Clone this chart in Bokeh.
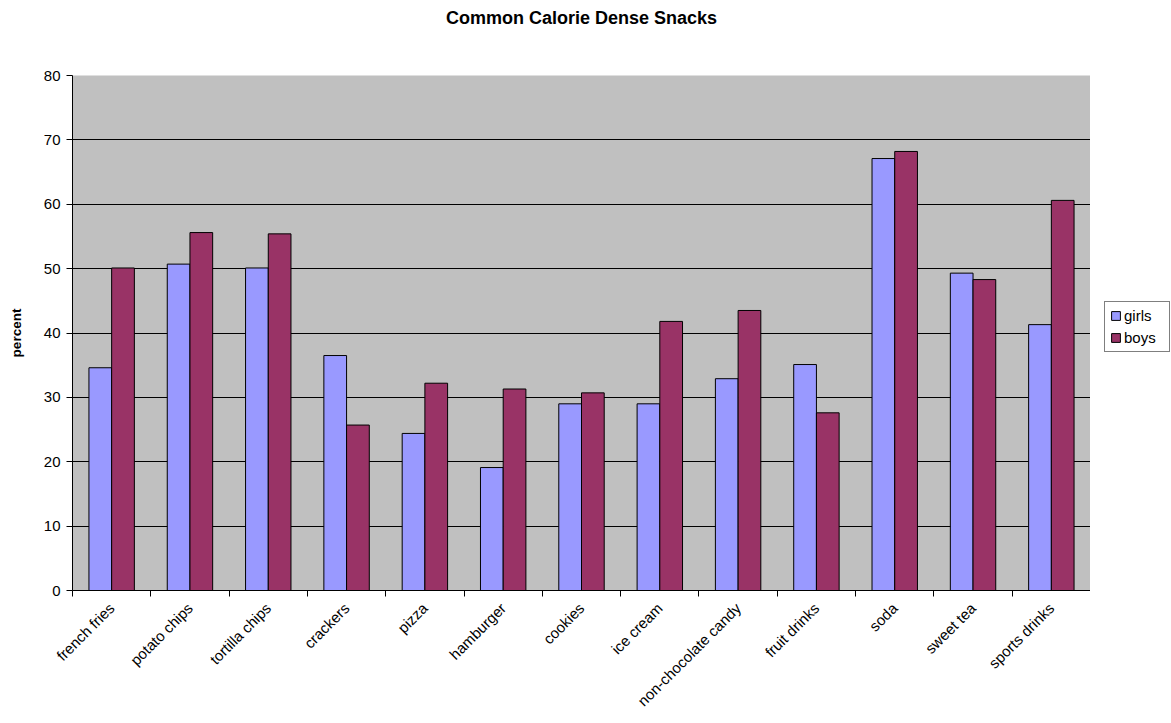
from bokeh.plotting import figure
from bokeh.models import ColumnDataSource, FixedTicker, Legend, LegendItem, Range1d, Title
from bokeh.layouts import row
from bokeh.embed import file_html
from bokeh.resources import INLINE
import math

categories = ["french fries", "potato chips", "tortilla chips", "crackers", "pizza",
              "hamburger", "cookies", "ice cream", "non-chocolate candy", "fruit drinks",
              "soda", "sweet tea", "sports drinks"]
girls = [34.6, 50.7, 50.1, 36.5, 24.4, 19.1, 29.0, 29.0, 32.9, 35.1, 67.1, 49.3, 41.3]
boys = [50.1, 55.6, 55.4, 25.7, 32.2, 31.3, 30.7, 41.8, 43.5, 27.6, 68.2, 48.3, 60.6]
y_ticks = [0, 10, 20, 30, 40, 50, 60, 70, 80]
series_names = ["girls", "boys"]
series_colors = ["#9999FF", "#993366"]
chart_title = "Common Calorie Dense Snacks"

n = len(categories)
centers = [i + 0.5 for i in range(n)]
bw = 0.29
src_g = ColumnDataSource(dict(x=[c - bw / 2 for c in centers], top=girls))
src_b = ColumnDataSource(dict(x=[c + bw / 2 for c in centers], top=boys))

p = figure(width=1090, height=723, output_backend="svg", toolbar_location=None,
           x_range=Range1d(0, n), y_range=Range1d(0, 80),
           min_border_left=72, min_border_right=0, min_border_top=75, min_border_bottom=133,
           title=None)
p.background_fill_color = "#C0C0C0"
p.border_fill_color = "white"
p.outline_line_color = None

# spacer (closest to the frame), then the real title above it
spacer = Title(text=" ", text_font="Liberation Sans", text_font_size="18px", standoff=21)
p.add_layout(spacer, "above")
title = Title(text=chart_title, align="center", text_font="Liberation Sans",
              text_font_size="18px", text_font_style="bold", text_color="black", standoff=10)
p.add_layout(title, "above")

rg = p.vbar(x="x", top="top", width=bw, bottom=0, source=src_g,
            fill_color=series_colors[0], line_color="black", line_width=1)
rb = p.vbar(x="x", top="top", width=bw, bottom=0, source=src_b,
            fill_color=series_colors[1], line_color="black", line_width=1)

# x axis
xa = p.xaxis[0]
xa.ticker = FixedTicker(ticks=centers, minor_ticks=list(range(n + 1)))
xa.major_label_overrides = {c: categories[i] for i, c in enumerate(centers)}
xa.major_label_orientation = math.pi / 4
xa.major_tick_line_color = None
xa.minor_tick_line_color = "black"
xa.minor_tick_out = 6
xa.minor_tick_in = 0
xa.axis_line_color = "black"
xa.major_label_text_font = "Liberation Sans"
xa.major_label_text_font_size = "15px"
xa.major_label_text_color = "black"
xa.major_label_standoff = 9

# y axis
ya = p.yaxis[0]
ya.ticker = FixedTicker(ticks=y_ticks)
ya.major_tick_out = 6
ya.major_tick_in = 0
ya.minor_tick_line_color = None
ya.axis_line_color = "black"
ya.major_label_text_font = "Liberation Sans"
ya.major_label_text_font_size = "15px"
ya.major_label_text_color = "black"
ya.major_label_standoff = 6
ya.axis_label = "percent"
ya.axis_label_text_font = "Liberation Sans"
ya.axis_label_text_font_size = "13.5px"
ya.axis_label_text_font_style = "bold"
ya.axis_label_text_color = "black"
ya.axis_label_standoff = 17

p.xgrid.grid_line_color = None
p.ygrid.ticker = FixedTicker(ticks=y_ticks)
p.ygrid.grid_line_color = "black"
p.ygrid.grid_line_width = 1

# legend panel
p2 = figure(width=81, height=723, output_backend="svg", toolbar_location=None,
            x_range=Range1d(0, 1), y_range=Range1d(0, 1),
            min_border=0, x_axis_location=None, y_axis_location=None)
p2.outline_line_color = None
p2.background_fill_color = "white"
p2.border_fill_color = "white"
p2.xgrid.visible = False
p2.ygrid.visible = False
lg = p2.vbar(x=[5], top=[5], width=0.1, fill_color=series_colors[0], line_color="black")
lb = p2.vbar(x=[5], top=[5], width=0.1, fill_color=series_colors[1], line_color="black")

legend = Legend(items=[LegendItem(label=series_names[0], renderers=[lg]),
                       LegendItem(label=series_names[1], renderers=[lb])],
                location=(14, 238))
legend.label_text_font = "Liberation Sans"
legend.label_text_font_size = "15px"
legend.label_text_color = "black"
legend.border_line_color = "black"
legend.background_fill_color = "white"
legend.glyph_width = 11
legend.glyph_height = 11
legend.label_standoff = 3
legend.label_height = 16
legend.label_width = 40
legend.spacing = 5
legend.padding = 5
legend.margin = 0
p2.add_layout(legend, "center")

layout = row(p, p2, spacing=0)
open("out.html", "w").write(file_html(layout, INLINE))
